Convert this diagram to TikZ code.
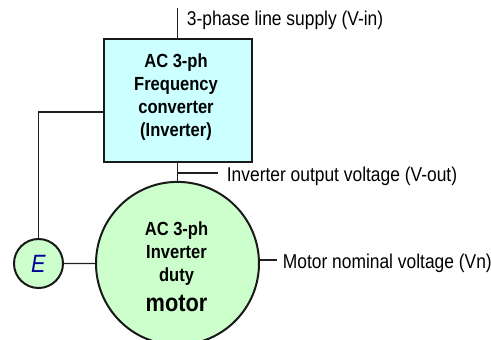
\documentclass[tikz,border=0pt]{standalone}
\usepackage{fontspec}
\setmainfont{Liberation Sans}[FakeStretch=0.87]
\definecolor{boxc}{HTML}{CCFFFF}
\definecolor{motc}{HTML}{CCFFCC}
\definecolor{ecol}{HTML}{000099}
\begin{document}
\begin{tikzpicture}[x=1pt,y=-1pt,
  wire/.style={draw=black!88, line width=1.3pt},
  border/.style={draw=black!90, line width=2pt},
  lbl/.style={anchor=base west, inner sep=0pt, font=\fontsize{20}{24}\selectfont},
  btxt/.style={align=center, inner sep=0pt, font=\bfseries\fontsize{19}{23}\selectfont}]
\useasboundingbox (0,0) rectangle (491,340);
% frequency converter box
\node[border, fill=boxc, minimum width=148pt, minimum height=123pt, inner sep=0pt] (conv) at (177.5,100.5) {};
\node[btxt] (convtxt) at (176,97.4) {AC 3-ph\\Frequency\\converter\\(Inverter)};
% motor
\node[border, circle, fill=motc, minimum size=163pt, inner sep=0pt] (motor) at (177.5,263.4) {};
\node[btxt] (mottxt) at (176.5,266.5) {AC 3-ph\\Inverter\\duty\\[7pt]{\fontsize{25}{30}\selectfont motor}};
% earth
\node[border, circle, fill=motc, minimum size=49pt, inner sep=0pt, text=ecol, font=\itshape\fontsize{25}{30}\selectfont] (E) at (38.5,263.5) {E};
% connectors
\coordinate (vin) at (177.5,8);
\draw[wire] (vin) -- (conv.north);
\draw[wire] (conv.south) -- (motor.north);
\coordinate (tap) at (177.5,173);
\coordinate (tapend) at (218,173);
\draw[wire] (tap) -- (tapend);
\draw[wire] ([yshift=-11.5pt]conv.west) -| (E.north);
\draw[wire] (E.east) -- (motor.west);
\coordinate (vnend) at (277,260);
\draw[wire] (motor.east |- vnend) -- (vnend);
% labels
\node[lbl] (vinlbl) at (186.7,26) {3-phase line supply (V-in)};
\node[lbl] (voutlbl) at (226.7,181) {Inverter output voltage (V-out)};
\node[lbl] (vnlbl) at (282.7,268.3) {Motor nominal voltage (Vn)};
\end{tikzpicture}
\end{document}
